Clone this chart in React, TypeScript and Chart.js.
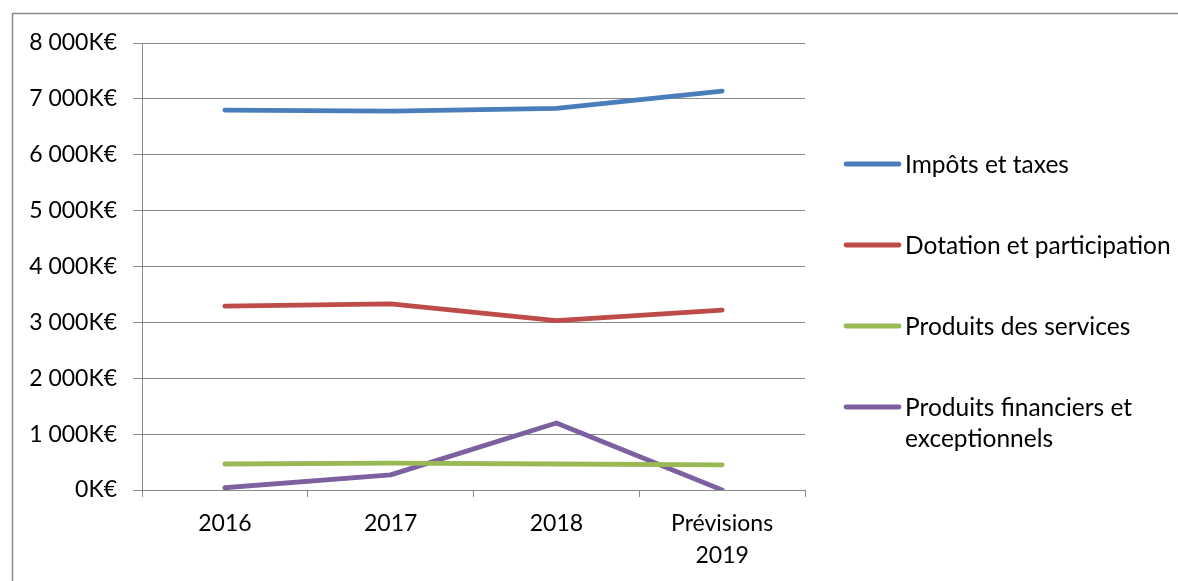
import React, { useEffect, useRef } from "react";
import { Chart, registerables } from "chart.js";

Chart.register(...registerables);

const categories: (string | string[])[] = ["2016", "2017", "2018", ["Prévisions", "2019"]];
const impotsEtTaxes = [6800, 6780, 6830, 7140];
const dotationEtParticipation = [3290, 3330, 3030, 3220];
const produitsDesServices = [465, 480, 465, 450];
const produitsFinanciers = [40, 270, 1200, 0];
const seriesLabels = [
  "Impôts et taxes",
  "Dotation et participation",
  "Produits des services",
  ["Produits financiers et", "exceptionnels"],
];
const seriesColors = ["#4A7EBB", "#BE4B48", "#98B954", "#7D60A0"];

const FONT = "Lato, 'Open Sans', sans-serif";
const AXIS_FONT_SIZE = 23;
const LEGEND_FONT_SIZE = 24.5;

function formatK(v: number): string {
  if (v === 0) return "0K€";
  const thousands = Math.round(v / 1000);
  return `${thousands} 000K€`;
}

const framePlugin = {
  id: "frame",
  beforeDraw(chart: any) {
    const ctx = chart.ctx;
    ctx.save();
    ctx.fillStyle = "#ffffff";
    ctx.fillRect(0, 0, chart.width, chart.height);
    ctx.strokeStyle = "#8a8a8a";
    ctx.lineWidth = 1.5;
    ctx.strokeRect(12.5, 13.5, chart.width + 20, chart.height + 20);
    ctx.restore();
  },
};

const legendPlugin = {
  id: "customLegend",
  afterDraw(chart: any) {
    const ctx = chart.ctx;
    const rows = [164, 245, 326, 407];
    ctx.save();
    ctx.font = `${LEGEND_FONT_SIZE}px ${FONT}`;
    ctx.textBaseline = "middle";
    ctx.textAlign = "left";
    chart.data.datasets.forEach((ds: any, i: number) => {
      const y = rows[i];
      ctx.strokeStyle = ds.borderColor;
      ctx.lineWidth = 4.8;
      ctx.lineCap = "round";
      ctx.beginPath();
      ctx.moveTo(846, y);
      ctx.lineTo(899, y);
      ctx.stroke();
      ctx.fillStyle = "#000000";
      const lines = Array.isArray(seriesLabels[i]) ? (seriesLabels[i] as string[]) : [seriesLabels[i] as string];
      lines.forEach((t, j) => ctx.fillText(t, 905, y + 1 + j * 31));
    });
    ctx.restore();
  },
};

export default function App() {
  const ref = useRef<HTMLCanvasElement | null>(null);
  useEffect(() => {
    if (!ref.current) return;
    const data = [impotsEtTaxes, dotationEtParticipation, produitsDesServices, produitsFinanciers];
    const chart = new Chart(ref.current, {
      type: "line",
      data: {
        labels: categories,
        datasets: data.map((d, i) => ({
          label: Array.isArray(seriesLabels[i]) ? (seriesLabels[i] as string[]).join(" ") : (seriesLabels[i] as string),
          data: d,
          borderColor: seriesColors[i],
          backgroundColor: seriesColors[i],
          borderWidth: 4.8,
          pointRadius: 0,
          tension: 0,
          borderCapStyle: "round" as const,
          borderJoinStyle: "round" as const,
          fill: false,
        })),
      },
      options: {
        responsive: false,
        devicePixelRatio: 1,
        animation: false,
        layout: { padding: { left: 0, top: 43, right: 373, bottom: 0 } },
        plugins: {
          legend: { display: false },
          tooltip: { enabled: false },
          title: { display: false },
        },
        scales: {
          x: {
            type: "category",
            offset: true,
            grid: {
              offset: true,
              drawOnChartArea: false,
              drawTicks: true,
              tickLength: 7,
              color: "#8a8a8a",
              lineWidth: 1,
            },
            border: { display: true, color: "#8a8a8a", width: 1 },
            ticks: {
              color: "#000000",
              font: { family: FONT, size: AXIS_FONT_SIZE, lineHeight: 1.4 },
              padding: 10,
              maxRotation: 0,
              autoSkip: false,
            },
            afterFit(scale: any) {
              scale.height = 91;
            },
          },
          y: {
            min: 0,
            max: 8000,
            grid: {
              drawOnChartArea: true,
              drawTicks: true,
              tickLength: 9,
              color: "#8a8a8a",
              lineWidth: 1,
            },
            border: { display: true, color: "#8a8a8a", width: 1 },
            ticks: {
              stepSize: 1000,
              color: "#000000",
              font: { family: FONT, size: AXIS_FONT_SIZE },
              padding: 16,
              callback: (v: any) => formatK(Number(v)),
            },
            afterFit(scale: any) {
              scale.width = 142;
            },
          },
        },
      },
      plugins: [framePlugin, legendPlugin],
    });
    return () => chart.destroy();
  }, []);
  return (
    <div style={{ position: "absolute", left: 0, top: 0, width: 1178, height: 581 }}>
      <canvas ref={ref} width={1178} height={581} style={{ display: "block" }} />
    </div>
  );
}
